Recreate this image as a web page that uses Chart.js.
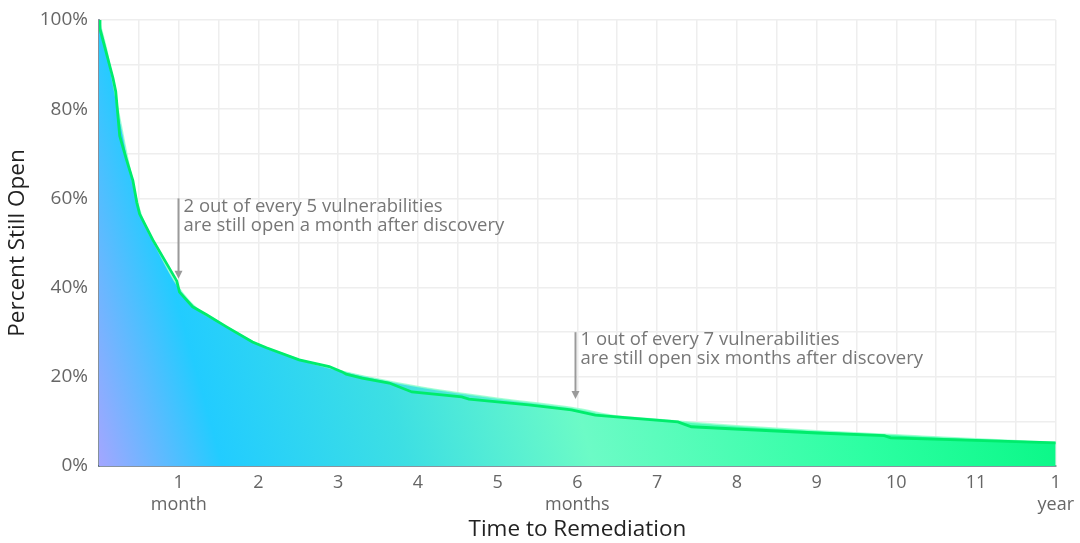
<!DOCTYPE html>
<html>
<head>
<meta charset="utf-8">
<script src="https://cdn.jsdelivr.net/npm/chart.js@4"></script>
<style>
  body { margin: 0; background: #fff; }
</style>
</head>
<body>
<canvas id="chart" width="1080" height="543"></canvas>
<script>
"use strict"

// actual remediation curve (months, percent still open)
const lineMonths = [0, 0.0125, 0.175, 0.21, 0.24, 0.26, 0.34, 0.425, 0.475, 0.51, 0.675, 0.975, 1.01, 1.175, 1.35, 1.6, 1.925, 2.1, 2.51, 2.8875, 3.05, 3.1, 3.3, 3.64, 3.925, 4.55, 4.64, 5.39, 5.925, 6.225, 6.64, 7.26, 7.43, 7.98, 9.01, 9.85, 9.93, 11.1, 12]
const lineOpen = [100, 98, 87, 84, 78, 74, 69, 64, 59, 56.5, 50.7, 41.5, 39, 35.7, 33.9, 31.2, 27.8, 26.5, 23.8, 22.3, 21.1, 20.6, 19.7, 18.6, 16.6, 15.5, 15.0, 13.7, 12.6, 11.4, 10.8, 9.9, 8.8, 8.3, 7.4, 6.8, 6.3, 5.7, 5.2]

// smoothed curve used for the filled area
const fitMonths = [0, 0.1, 0.25, 0.5, 0.75, 1, 1.25, 1.5, 2, 2.5, 3, 3.5, 4, 4.5, 5, 5.5, 6, 6.5, 7, 7.5, 8, 9, 10, 11, 12]
const fitOpen = [100, 93, 79, 58, 48, 40, 35, 32.3, 27.3, 24, 21.5, 19.5, 17.8, 16.4, 15.2, 14.1, 12.9, 11.2, 10.5, 9.7, 9.0, 7.9, 7.0, 6.1, 5.3]

const subLabels = { 1: "month", 6: "months", 12: "year" }
const tickNames = { 12: "1" }

const notes = [
    { month: 0.99, top: 60, bottom: 42, lines: ["2 out of every 5 vulnerabilities", "are still open a month after discovery"] },
    { month: 5.975, top: 30, bottom: 15, lines: ["1 out of every 7 vulnerabilities", "are still open six months after discovery"] }
]

const fontFamily = "'Open Sans', Lato, sans-serif"

function toPoints(xs, ys){
    let pts = []
    for (let i = 0; i < xs.length; i++){
        pts.push({ x: xs[i], y: ys[i] })
    }
    return pts
}

function areaGradient(context){
    const chart = context.chart
    const area = chart.chartArea
    if (!area) return "#22ccff"
    const g = chart.ctx.createLinearGradient(area.left, area.bottom, area.right, area.bottom - 266)
    g.addColorStop(0, "#a3a6ff")
    g.addColorStop(0.12, "#22ccff")
    g.addColorStop(0.3, "#3ddfe3")
    g.addColorStop(0.48, "#6cfbc6")
    g.addColorStop(0.75, "#2cffa2")
    g.addColorStop(1, "#00f57f")
    return g
}

const notePlugin = {
    id: "notes",
    afterDatasetsDraw(chart){
        const ctx = chart.ctx
        const xs = chart.scales.x
        const ys = chart.scales.y
        ctx.save()
        for (const n of notes){
            const x = Math.round(xs.getPixelForValue(n.month)) + 0.5
            const y1 = ys.getPixelForValue(n.top)
            const y2 = ys.getPixelForValue(n.bottom)
            ctx.strokeStyle = "#9a9a9a"
            ctx.fillStyle = "#9a9a9a"
            ctx.lineWidth = 2
            ctx.beginPath()
            ctx.moveTo(x, y1)
            ctx.lineTo(x, y2 - 6)
            ctx.stroke()
            ctx.beginPath()
            ctx.moveTo(x - 4, y2 - 8)
            ctx.lineTo(x + 4, y2 - 8)
            ctx.lineTo(x, y2)
            ctx.closePath()
            ctx.fill()
            ctx.fillStyle = "#777"
            ctx.font = "18.5px " + fontFamily
            ctx.textBaseline = "middle"
            ctx.textAlign = "left"
            for (let i = 0; i < n.lines.length; i++){
                ctx.fillText(n.lines[i], x + 5, y1 + 8 + i * 19)
            }
        }
        ctx.restore()
    }
}

const config = {
    type: "line",
    data: {
        datasets: [
            {
                label: "actual",
                data: toPoints(lineMonths, lineOpen),
                borderColor: "#00ec6c",
                borderWidth: 2.8,
                pointRadius: 0,
                fill: false,
                tension: 0,
                order: 0
            },
            {
                label: "fit",
                data: toPoints(fitMonths, fitOpen),
                borderColor: "rgba(150,255,205,0.8)",
                borderWidth: 1.5,
                backgroundColor: areaGradient,
                pointRadius: 0,
                fill: "origin",
                cubicInterpolationMode: "monotone",
                order: 1
            }
        ]
    },
    options: {
        responsive: false,
        devicePixelRatio: 1,
        animation: false,
        layout: { padding: { top: 20, right: 21, bottom: 0, left: 0 } },
        plugins: { legend: { display: false }, tooltip: { enabled: false } },
        scales: {
            x: {
                type: "linear",
                min: 0,
                max: 12,
                afterFit(scale){ scale.height = 77 },
                grid: { color: "#eeeeee", lineWidth: 1.5, drawTicks: false },
                border: { display: true, color: "rgba(50,70,90,0.55)", width: 2 },
                ticks: {
                    stepSize: 0.5,
                    autoSkip: false,
                    maxRotation: 0,
                    padding: 6,
                    color: "#666",
                    font: { family: fontFamily, size: 18, lineHeight: 1.22 },
                    callback(v){
                        if (v === 0 || v % 1 !== 0) return ""
                        const name = tickNames[v] || String(v)
                        return subLabels[v] ? [name, subLabels[v]] : name
                    }
                },
                title: {
                    display: true,
                    text: "Time to Remediation",
                    color: "#222",
                    font: { family: fontFamily, size: 22.5 },
                    padding: { top: 0, bottom: 0 }
                }
            },
            y: {
                min: 0,
                max: 100,
                afterFit(scale){
                    scale.width = 99
                    scale.paddingTop = 0
                    scale.paddingBottom = 0
                },
                grid: { color: "#eeeeee", lineWidth: 1.5, drawTicks: false },
                border: { display: true, color: "rgba(50,70,90,0.55)", width: 2 },
                ticks: {
                    stepSize: 10,
                    padding: 11,
                    color: "#666",
                    font: { family: fontFamily, size: 19 },
                    callback(v){ return v % 20 === 0 ? v + "%" : "" }
                },
                title: {
                    display: true,
                    text: "Percent Still Open",
                    color: "#222",
                    font: { family: fontFamily, size: 22.5 },
                    padding: { top: 4, bottom: 0 }
                }
            }
        }
    },
    plugins: [notePlugin]
}

new Chart(document.getElementById("chart"), config)
</script>
</body>
</html>
